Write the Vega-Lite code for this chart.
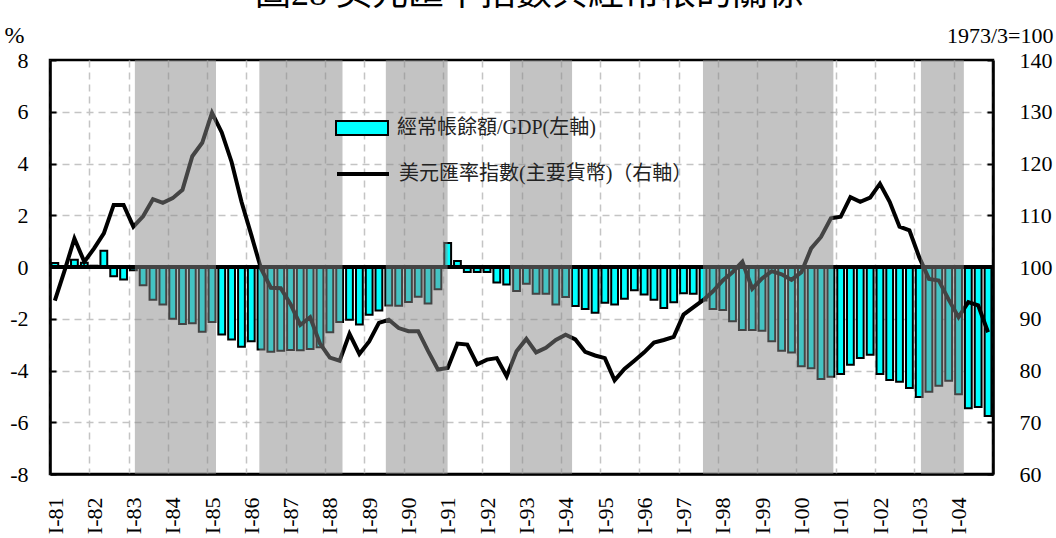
{
  "$schema": "https://vega.github.io/schema/vega-lite/v6.json",
  "autosize": "none",
  "width": 943,
  "height": 414,
  "padding": {"left": 50, "top": 60, "right": 63, "bottom": 64},
  "background": "white",
  "config": {
    "view": {"stroke": "black", "strokeWidth": 2.5},
    "font": "Liberation Serif"
  },
  "title": {
    "text": "圖28 美元匯率指數與經常帳的關係",
    "font": "Liberation Serif, Noto Sans CJK TC",
    "fontSize": 36,
    "fontWeight": "normal",
    "color": "black",
    "anchor": "middle",
    "frame": "group",
    "offset": 4,
    "dx": 8,
    "dy": -6
  },
  "datasets": {
    "main": [
      {"date": "1981-01-01", "ca": 0.15, "usd": 93.5},
      {"date": "1981-04-01", "ca": 0.03, "usd": 99.3},
      {"date": "1981-07-01", "ca": 0.28, "usd": 105.5},
      {"date": "1981-10-01", "ca": 0.16, "usd": 101.0},
      {"date": "1982-01-01", "ca": 0.05, "usd": 103.6},
      {"date": "1982-04-01", "ca": 0.63, "usd": 106.5},
      {"date": "1982-07-01", "ca": -0.36, "usd": 112.0},
      {"date": "1982-10-01", "ca": -0.48, "usd": 112.0},
      {"date": "1983-01-01", "ca": -0.13, "usd": 107.8},
      {"date": "1983-04-01", "ca": -0.71, "usd": 109.8},
      {"date": "1983-07-01", "ca": -1.27, "usd": 113.1},
      {"date": "1983-10-01", "ca": -1.45, "usd": 112.4},
      {"date": "1984-01-01", "ca": -2.0, "usd": 113.3},
      {"date": "1984-04-01", "ca": -2.2, "usd": 114.9},
      {"date": "1984-07-01", "ca": -2.17, "usd": 121.4},
      {"date": "1984-10-01", "ca": -2.5, "usd": 124.0},
      {"date": "1985-01-01", "ca": -2.13, "usd": 129.8},
      {"date": "1985-04-01", "ca": -2.61, "usd": 126.0},
      {"date": "1985-07-01", "ca": -2.8, "usd": 120.3},
      {"date": "1985-10-01", "ca": -3.08, "usd": 112.6},
      {"date": "1986-01-01", "ca": -2.87, "usd": 106.2},
      {"date": "1986-04-01", "ca": -3.19, "usd": 99.7},
      {"date": "1986-07-01", "ca": -3.28, "usd": 96.0},
      {"date": "1986-10-01", "ca": -3.24, "usd": 95.9},
      {"date": "1987-01-01", "ca": -3.21, "usd": 92.8},
      {"date": "1987-04-01", "ca": -3.22, "usd": 88.8},
      {"date": "1987-07-01", "ca": -3.17, "usd": 90.3},
      {"date": "1987-10-01", "ca": -3.1, "usd": 85.2},
      {"date": "1988-01-01", "ca": -2.52, "usd": 82.5},
      {"date": "1988-04-01", "ca": -2.13, "usd": 81.9},
      {"date": "1988-07-01", "ca": -2.04, "usd": 87.1},
      {"date": "1988-10-01", "ca": -2.22, "usd": 83.2},
      {"date": "1989-01-01", "ca": -1.85, "usd": 85.6},
      {"date": "1989-04-01", "ca": -1.68, "usd": 89.2},
      {"date": "1989-07-01", "ca": -1.49, "usd": 89.8},
      {"date": "1989-10-01", "ca": -1.5, "usd": 88.2},
      {"date": "1990-01-01", "ca": -1.35, "usd": 87.6},
      {"date": "1990-04-01", "ca": -1.15, "usd": 87.6},
      {"date": "1990-07-01", "ca": -1.41, "usd": 83.8},
      {"date": "1990-10-01", "ca": -0.86, "usd": 80.2},
      {"date": "1991-01-01", "ca": 0.93, "usd": 80.5},
      {"date": "1991-04-01", "ca": 0.23, "usd": 85.2},
      {"date": "1991-07-01", "ca": -0.19, "usd": 85.0},
      {"date": "1991-10-01", "ca": -0.19, "usd": 81.2},
      {"date": "1992-01-01", "ca": -0.19, "usd": 82.1},
      {"date": "1992-04-01", "ca": -0.6, "usd": 82.4},
      {"date": "1992-07-01", "ca": -0.68, "usd": 78.9},
      {"date": "1992-10-01", "ca": -0.93, "usd": 83.7},
      {"date": "1993-01-01", "ca": -0.65, "usd": 86.1},
      {"date": "1993-04-01", "ca": -1.03, "usd": 83.5},
      {"date": "1993-07-01", "ca": -1.03, "usd": 84.4},
      {"date": "1993-10-01", "ca": -1.45, "usd": 85.9},
      {"date": "1994-01-01", "ca": -1.16, "usd": 86.9},
      {"date": "1994-04-01", "ca": -1.51, "usd": 86.0},
      {"date": "1994-07-01", "ca": -1.62, "usd": 83.6},
      {"date": "1994-10-01", "ca": -1.77, "usd": 82.9},
      {"date": "1995-01-01", "ca": -1.38, "usd": 82.4},
      {"date": "1995-04-01", "ca": -1.45, "usd": 78.1},
      {"date": "1995-07-01", "ca": -1.23, "usd": 80.3},
      {"date": "1995-10-01", "ca": -0.9, "usd": 81.9},
      {"date": "1996-01-01", "ca": -1.06, "usd": 83.5},
      {"date": "1996-04-01", "ca": -1.27, "usd": 85.4},
      {"date": "1996-07-01", "ca": -1.58, "usd": 85.9},
      {"date": "1996-10-01", "ca": -1.36, "usd": 86.5},
      {"date": "1997-01-01", "ca": -1.01, "usd": 90.8},
      {"date": "1997-04-01", "ca": -1.03, "usd": 92.2},
      {"date": "1997-07-01", "ca": -1.29, "usd": 93.6},
      {"date": "1997-10-01", "ca": -1.62, "usd": 95.3},
      {"date": "1998-01-01", "ca": -1.66, "usd": 97.4},
      {"date": "1998-04-01", "ca": -2.1, "usd": 99.0},
      {"date": "1998-07-01", "ca": -2.43, "usd": 101.0},
      {"date": "1998-10-01", "ca": -2.43, "usd": 95.8},
      {"date": "1999-01-01", "ca": -2.46, "usd": 97.8},
      {"date": "1999-04-01", "ca": -2.87, "usd": 99.2},
      {"date": "1999-07-01", "ca": -3.24, "usd": 98.6},
      {"date": "1999-10-01", "ca": -3.3, "usd": 97.5},
      {"date": "2000-01-01", "ca": -3.84, "usd": 99.0},
      {"date": "2000-04-01", "ca": -3.91, "usd": 103.6},
      {"date": "2000-07-01", "ca": -4.33, "usd": 105.8},
      {"date": "2000-10-01", "ca": -4.24, "usd": 109.4},
      {"date": "2001-01-01", "ca": -4.14, "usd": 109.7},
      {"date": "2001-04-01", "ca": -3.78, "usd": 113.5},
      {"date": "2001-07-01", "ca": -3.52, "usd": 112.6},
      {"date": "2001-10-01", "ca": -3.39, "usd": 113.4},
      {"date": "2002-01-01", "ca": -4.14, "usd": 116.1},
      {"date": "2002-04-01", "ca": -4.37, "usd": 112.6},
      {"date": "2002-07-01", "ca": -4.43, "usd": 107.8},
      {"date": "2002-10-01", "ca": -4.68, "usd": 107.1},
      {"date": "2003-01-01", "ca": -5.02, "usd": 101.9},
      {"date": "2003-04-01", "ca": -4.82, "usd": 97.7},
      {"date": "2003-07-01", "ca": -4.59, "usd": 97.4},
      {"date": "2003-10-01", "ca": -4.4, "usd": 93.7},
      {"date": "2004-01-01", "ca": -4.92, "usd": 90.3},
      {"date": "2004-04-01", "ca": -5.46, "usd": 93.2},
      {"date": "2004-07-01", "ca": -5.41, "usd": 92.6},
      {"date": "2004-10-01", "ca": -5.76, "usd": 87.4}
    ],
    "shade": [
      {"start": "1983-03-01", "end": "1985-03-24"},
      {"start": "1986-05-01", "end": "1988-06-12"},
      {"start": "1989-07-20", "end": "1991-02-14"},
      {"start": "1992-09-16", "end": "1994-04-16"},
      {"start": "1997-08-15", "end": "2000-12-09"},
      {"start": "2003-03-03", "end": "2004-04-05"}
    ]
  },
  "data": {"name": "main"},
  "layer": [
    {
      "layer": [
        {
          "mark": {"type": "bar", "width": 6.8, "stroke": "black", "strokeWidth": 2},
          "encoding": {
            "x": {
              "field": "date", "type": "temporal", "timeUnit": "utcyearquarter", "bandPosition": 0.5,
              "scale": {"type": "utc", "domain": [{"year": 1981, "month": 1, "date": 1, "utc": true}, {"year": 2005, "month": 1, "date": 1, "utc": true}]},
              "axis": {
                "tickCount": {"interval": "year", "step": 1},
                "labelExpr": "utcyear(datum.value) < 2005 ? 'I-' + utcFormat(datum.value, '%y') : ''",
                "labelAngle": 270,
                "labelAlign": "right",
                "labelBaseline": "middle",
                "labelOffset": 5,
                "labelPadding": 23,
                "labelFontSize": 22,
                "labelFont": "Liberation Serif",
                "labelColor": "black",
                "labelOverlap": false,
                "labelFlush": false,
                "ticks": false,
                "grid": true,
                "gridColor": "#c4c4c4",
                "gridDash": [7, 5],
                "gridWidth": 1.5,
                "domainColor": "black",
                "domainWidth": 2.5,
                "title": null
              }
            },
            "y": {
              "field": "ca", "type": "quantitative",
              "scale": {"domain": [-8, 8], "nice": false},
              "axis": {
                "values": [-8, -7, -6, -5, -4, -3, -2, -1, 0, 1, 2, 3, 4, 5, 6, 7, 8],
                "labelExpr": "datum.value % 2 == 0 ? (datum.value < 0 ? '-' + abs(datum.value) : '' + datum.value) : ''",
                "tickOpacity": {"condition": {"test": "datum.value % 2 == 0", "value": 1}, "value": 0},
                "gridOpacity": {"condition": {"test": "abs(datum.value) == 8", "value": 0}, "value": 1},
                "tickSize": -6,
                "tickColor": "black",
                "tickWidth": 2,
                "grid": true,
                "gridColor": "#c4c4c4",
                "gridDash": [7, 5],
                "gridWidth": 1.5,
                "domainColor": "black",
                "domainWidth": 2.5,
                "labelFontSize": 22,
                "labelFont": "Liberation Serif",
                "labelColor": "black",
                "labelPadding": 28,
                "title": "%",
                "titleAngle": 0,
                "titleX": -46,
                "titleY": -25,
                "titleAlign": "left",
                "titleBaseline": "middle",
                "titleFont": "Liberation Serif",
                "titleFontSize": 24,
                "titleFontWeight": "normal",
                "titleColor": "black"
              }
            },
            "fill": {
              "datum": "經常帳餘額/GDP(左軸)",
              "scale": {"range": ["#00ffff"]},
              "legend": {
                "orient": "none",
                "legendX": 285,
                "legendY": 41,
                "title": null,
                "symbolType": "M-1,-0.27H1V0.27H-1Z",
                "symbolSize": 2704,
                "symbolStrokeColor": "black",
                "symbolStrokeWidth": 2,
                "symbolOpacity": 1,
                "labelFont": "Liberation Serif, Noto Sans CJK TC",
                "labelFontSize": 20,
                "labelColor": "#222222",
                "labelOffset": 8,
                "labelLimit": 0
              }
            }
          }
        },
        {
          "mark": {"type": "rule", "color": "black", "strokeWidth": 3},
          "encoding": {"y": {"datum": 0}}
        }
      ]
    },
    {
      "mark": {"type": "line", "strokeWidth": 4},
      "encoding": {
        "x": {"field": "date", "type": "temporal", "timeUnit": "utcyearquarter", "bandPosition": 0.5},
        "y": {
          "field": "usd", "type": "quantitative",
          "scale": {"domain": [60, 140], "nice": false},
          "axis": {
            "orient": "right",
            "values": [60, 70, 80, 90, 100, 110, 120, 130, 140],
            "tickSize": -6,
            "tickColor": "black",
            "tickWidth": 2,
            "grid": false,
            "domainColor": "black",
            "domainWidth": 2.5,
            "labelFontSize": 22,
            "labelFont": "Liberation Serif",
            "labelColor": "black",
            "labelPadding": 32,
            "title": "1973/3=100",
            "titleAngle": 0,
            "titleX": 60,
            "titleY": -25,
            "titleAlign": "right",
            "titleBaseline": "middle",
            "titleFont": "Liberation Serif",
            "titleFontSize": 22,
            "titleFontWeight": "normal",
            "titleColor": "black"
          }
        },
        "stroke": {
          "datum": "美元匯率指數(主要貨幣)（右軸）",
          "scale": {"range": ["#000000"]},
          "legend": {
            "orient": "none",
            "legendX": 285,
            "legendY": 86,
            "title": null,
            "symbolType": "stroke",
            "symbolSize": 2704,
            "symbolStrokeWidth": 4,
            "labelFont": "Liberation Serif, Noto Sans CJK TC",
            "labelFontSize": 20,
            "labelColor": "#222222",
            "labelOffset": 8,
            "labelLimit": 0
          }
        }
      }
    },
    {
      "data": {"name": "shade"},
      "mark": {"type": "rect", "fill": "#888888", "opacity": 0.5},
      "encoding": {
        "x": {"field": "start", "type": "temporal"},
        "x2": {"field": "end"}
      }
    }
  ],
  "resolve": {"scale": {"y": "independent", "fill": "independent", "stroke": "independent"}}
}
